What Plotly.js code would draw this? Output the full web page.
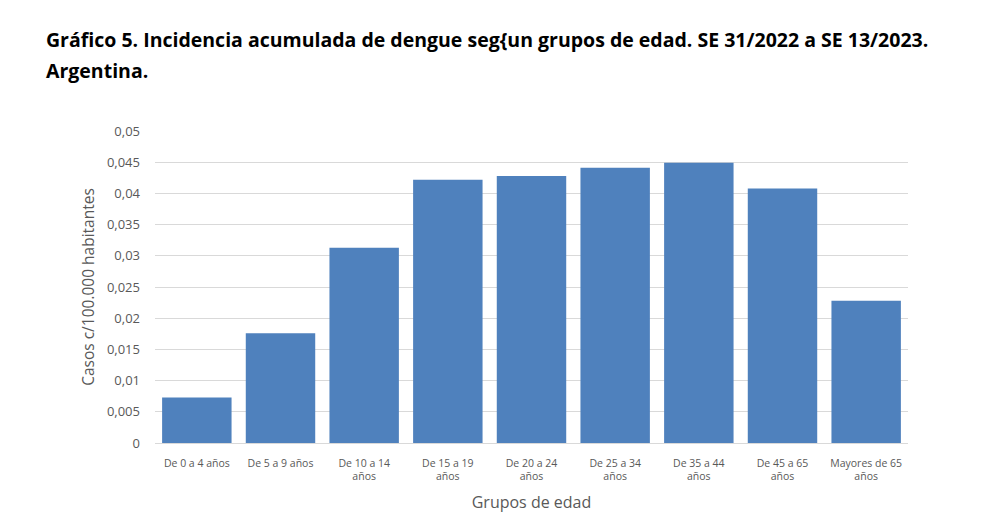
<!DOCTYPE html>
<html>
<head>
<meta charset="utf-8">
<script src="https://cdn.plot.ly/plotly-3.0.1.min.js"></script>
<style>
  html, body { margin: 0; padding: 0; background: #fff; }
  #chart { width: 986px; height: 529px; }
</style>
</head>
<body>
<div id="chart"></div>
<script>
// Grupos de edad (etiquetas del eje x)
const grupos = [
    'De 0 a 4 años',
    'De 5 a 9 años',
    'De 10 a 14<br>años',
    'De 15 a 19<br>años',
    'De 20 a 24<br>años',
    'De 25 a 34<br>años',
    'De 35 a 44<br>años',
    'De 45 a 65<br>años',
    'Mayores de 65<br>años'
];

// Incidencia acumulada (casos c/100.000 hab.)
const incidencia = [0.0073, 0.0176, 0.0313, 0.0422, 0.0428, 0.0441, 0.0449, 0.0408, 0.0228];

// Ticks del eje y con coma decimal
const yTicks = [0, 0.005, 0.01, 0.015, 0.02, 0.025, 0.03, 0.035, 0.04, 0.045, 0.05];
const yTickText = ['0', '0,005', '0,01', '0,015', '0,02', '0,025', '0,03', '0,035', '0,04', '0,045', '0,05'];

var trace = {
    type: 'bar',
    x: grupos,
    y: incidencia,
    marker: { color: '#4f81bd' },
    hoverinfo: 'x+y'
};

var layout = {
    width: 986,
    height: 529,
    paper_bgcolor: '#fff',
    plot_bgcolor: '#fff',
    showlegend: false,
    bargap: 0.17,
    margin: { t: 131, b: 86, l: 155, r: 78 },
    font: { family: 'Open Sans', color: '#595959' },
    title: {
        text: '<b>Gráfico 5. Incidencia acumulada de dengue seg{un grupos de edad. SE 31/2022 a SE 13/2023.</b>',
        font: { family: 'Open Sans', size: 19.5, color: '#000' },
        xref: 'container',
        yref: 'container',
        x: 46 / 986,
        xanchor: 'left',
        y: 1 - 40 / 529,
        yanchor: 'middle'
    },
    annotations: [{
        text: '<b>Argentina.</b>',
        xref: 'paper',
        yref: 'paper',
        x: -111 / 753,
        xanchor: 'left',
        y: 1 + (131 - 70) / 312,
        yanchor: 'middle',
        showarrow: false,
        font: { family: 'Open Sans', size: 19.5, color: '#000' }
    }],
    xaxis: {
        type: 'category',
        tickfont: { size: 10.5, color: '#595959' },
        showline: true,
        linecolor: '#d9d9d9',
        linewidth: 1,
        ticks: '',
        ticklabelstandoff: 10,
        showgrid: false,
        title: {
            text: 'Grupos de edad',
            font: { size: 16, color: '#595959' },
            standoff: 14
        }
    },
    yaxis: {
        range: [0, 0.05],
        tickvals: yTicks,
        ticktext: yTickText,
        tickfont: { size: 13, color: '#595959' },
        gridcolor: '#d9d9d9',
        gridwidth: 1,
        zeroline: false,
        ticks: '',
        ticklabelstandoff: 14,
        title: {
            text: 'Casos c/100.000 habitantes',
            font: { size: 15.5, color: '#595959' },
            standoff: 8
        }
    }
};

Plotly.newPlot('chart', [trace], layout, { displayModeBar: false });
</script>
</body>
</html>
